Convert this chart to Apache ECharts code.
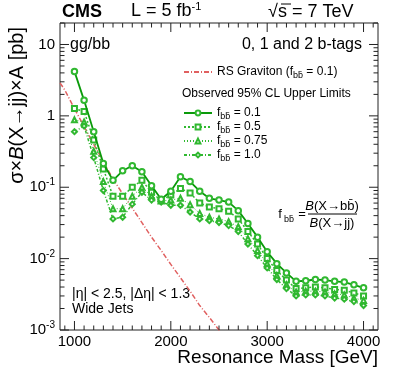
<!DOCTYPE html>
<html>
<head>
<meta charset="utf-8">
<script src="https://cdn.jsdelivr.net/npm/echarts@6/dist/echarts.min.js"></script>
<style>
html, body { margin: 0; padding: 0; background: #fff; }
#main { width: 399px; height: 387px; }
</style>
</head>
<body>
<div id="main"></div>
<script>
// ---------------------------------------------- data
var masses = [1000, 1100, 1200, 1300, 1400, 1500, 1600, 1700, 1800, 1900, 2000,
    2100, 2200, 2300, 2400, 2500, 2600, 2700, 2800, 2900, 3000,
    3100, 3200, 3300, 3400, 3500, 3600, 3700, 3800, 3900, 4000];
// observed 95% CL limits [pb]
var limit01 = [4.2, 1.65, 0.6, 0.215, 0.125, 0.17, 0.2, 0.165, 0.105, 0.068, 0.088,
    0.14, 0.12, 0.088, 0.07, 0.066, 0.062, 0.047, 0.031, 0.02, 0.0125,
    0.0085, 0.0063, 0.0048, 0.0049, 0.0051, 0.005, 0.0048, 0.0047, 0.0043, 0.0039];
var limit05 = [1.27, 1.15, 0.46, 0.18, 0.075, 0.075, 0.1, 0.125, 0.085, 0.065, 0.078,
    0.096, 0.083, 0.06, 0.053, 0.05, 0.046, 0.036, 0.024, 0.016, 0.01,
    0.0068, 0.005, 0.0038, 0.0039, 0.004, 0.0039, 0.0037, 0.0036, 0.0033, 0.003];
var limit075 = [0.88, 0.82, 0.32, 0.12, 0.05, 0.05, 0.075, 0.1, 0.075, 0.064, 0.066,
    0.07, 0.057, 0.043, 0.038, 0.036, 0.033, 0.028, 0.019, 0.013, 0.0085,
    0.0058, 0.0043, 0.0034, 0.0035, 0.0035, 0.0034, 0.0032, 0.0031, 0.0028, 0.0026];
var limit10 = [0.6, 0.72, 0.26, 0.09, 0.036, 0.038, 0.058, 0.085, 0.066, 0.062, 0.056,
    0.056, 0.045, 0.036, 0.034, 0.032, 0.029, 0.024, 0.016, 0.011, 0.0074,
    0.0051, 0.0038, 0.003, 0.0031, 0.0031, 0.003, 0.0028, 0.0027, 0.0025, 0.0022];
// RS graviton cross section
var gravMass = [850, 900, 1000, 1100, 1200, 1300, 1400, 1500, 1600, 1700, 1800,
    1900, 2000, 2100, 2200, 2300, 2400, 2500, 2600];
var gravXsec = [2.9, 2.3, 1.26, 0.71, 0.4, 0.23, 0.13, 0.081, 0.051, 0.032, 0.02,
    0.013, 0.0083, 0.0054, 0.0035, 0.0022, 0.0015, 0.001, 0.00063];
// axis labels
var xLabels = [1000, 2000, 3000, 4000];
var yLabels = [0.001, 0.01, 0.1, 1, 10];

// ---------------------------------------------- ticks (ROOT style, inside frame)
var xTicks = [];
for (var m = 900; m <= 4100; m += 100) {
    xTicks.push([m, 0.01, xLabels.indexOf(m) >= 0 ? 1 : 0]);
}
var yTicks = [];
yLabels.forEach(function (d) {
    yTicks.push([1000, d, 1]);
    for (var k = 2; k <= 9; k++) {
        if (d * k <= 20) yTicks.push([1000, +(d * k).toPrecision(2), 0]);
    }
});

function pairs(xs, ys) {
    return xs.map(function (x, i) { return [x, ys[i]]; });
}

var FONT = 'Liberation Sans';
var GREEN = '#0a9a0a';
var LGREEN = '#30b830';
var RED = '#e06060';

var sub = { fontSize: 9, fontFamily: FONT, color: '#000', padding: [7, 0, 0, 0] };
var txt = { fontSize: 12, fontFamily: FONT, color: '#000' };
var legendNames = {
    grav: '{t|RS Graviton (f}{s|bb\u0304}{t| = 0.1)}',
    f01: '{t|f}{s|bb\u0304}{t| = 0.1}',
    f05: '{t|f}{s|bb\u0304}{t| = 0.5}',
    f075: '{t|f}{s|bb\u0304}{t| = 0.75}',
    f10: '{t|f}{s|bb\u0304}{t| = 1.0}'
};

var myChart = echarts.init(document.getElementById('main'));
var option = {
    animation: false,
    grid: {
        left: 60,
        right: 21,
        top: 23,
        bottom: 57,
        show: true,
        borderColor: '#222',
        borderWidth: 1
    },
    xAxis: {
        type: 'value',
        min: 850,
        max: 4150,
        interval: 50,
        axisLine: { show: false },
        axisTick: { show: false },
        splitLine: { show: false },
        axisLabel: {
            margin: 4,
            fontSize: 15,
            fontFamily: FONT,
            color: '#000',
            formatter: function (v) {
                return xLabels.indexOf(v) >= 0 ? String(v) : '';
            }
        }
    },
    yAxis: {
        type: 'log',
        logBase: 10,
        min: 0.001,
        max: 20,
        axisLine: { show: false },
        axisTick: { show: false },
        splitLine: { show: false },
        axisLabel: {
            margin: 5,
            fontSize: 15,
            fontFamily: FONT,
            color: '#000',
            formatter: function (v) {
                var e = Math.round(Math.log10(v));
                if (Math.abs(Math.log10(v) - e) > 1e-6) return '';
                if (e === 0) return '1';
                if (e === 1) return '10';
                return '10{sup|' + e + '}';
            },
            rich: {
                sup: { fontSize: 10, fontFamily: FONT, color: '#000', padding: [0, 0, 9, 0] }
            }
        }
    },
    legend: [{
        data: [{ name: 'grav', itemStyle: { opacity: 0 } }],
        left: 178,
        top: 61,
        itemWidth: 28,
        itemHeight: 6,
        formatter: function (n) { return legendNames[n]; },
        textStyle: { rich: { t: txt, s: sub } }
    }, {
        data: ['f01', 'f05', 'f075', 'f10'],
        orient: 'vertical',
        left: 178,
        top: 102,
        itemGap: 0,
        itemWidth: 28,
        itemHeight: 6,
        formatter: function (n) { return legendNames[n]; },
        textStyle: { rich: { t: txt, s: sub } }
    }],
    graphic: [
        { type: 'text', left: 62, top: 3, style: { text: 'CMS', font: 'bold 18px ' + FONT, fill: '#000' } },
        { type: 'text', left: 131, top: 1, style: {
            text: '{n|L = 5 fb}{p|-1}', rich: {
                n: { fontSize: 18, fontFamily: FONT, color: '#000' },
                p: { fontSize: 11, fontFamily: FONT, color: '#000', padding: [0, 0, 10, 0] }
            } } },
        { type: 'text', left: 268, top: 3, style: { text: '\u221As = 7 TeV', font: '18px ' + FONT, fill: '#000' } },
        { type: 'line', shape: { x1: 281, y1: 4, x2: 291, y2: 4 }, style: { stroke: '#000', lineWidth: 1 } },
        { type: 'text', left: 70, top: 37, style: { text: 'gg/bb', font: '16px ' + FONT, fill: '#000' } },
        { type: 'text', right: 37, top: 37, style: { text: '0, 1 and 2 b-tags', font: '16px ' + FONT, fill: '#000' } },
        { type: 'text', left: 182, top: 88, style: { text: 'Observed 95% CL Upper Limits', font: '12px ' + FONT, fill: '#000' } },
        // f_bb = B(X->bb)/B(X->jj)
        { type: 'text', x: 280, y: 214, style: { text: 'f', font: '13px ' + FONT, fill: '#000', textAlign: 'center', textVerticalAlign: 'middle' } },
        { type: 'text', x: 289, y: 220, style: { text: 'bb\u0304', font: '9px ' + FONT, fill: '#000', textAlign: 'center', textVerticalAlign: 'middle' } },
        { type: 'text', x: 302, y: 214, style: { text: '=', font: '13px ' + FONT, fill: '#000', textAlign: 'center', textVerticalAlign: 'middle' } },
        { type: 'text', x: 332, y: 206, style: {
            text: '{i|B}{n|(X\u2192bb\u0304)}', textAlign: 'center', textVerticalAlign: 'middle', rich: {
                i: { fontSize: 13, fontFamily: FONT, fontStyle: 'italic', color: '#000' },
                n: { fontSize: 13, fontFamily: FONT, color: '#000' }
            } } },
        { type: 'line', shape: { x1: 308, y1: 214, x2: 357, y2: 214 }, style: { stroke: '#000', lineWidth: 1 } },
        { type: 'text', x: 332, y: 223, style: {
            text: '{i|B}{n|(X\u2192jj)}', textAlign: 'center', textVerticalAlign: 'middle', rich: {
                i: { fontSize: 13, fontFamily: FONT, fontStyle: 'italic', color: '#000' },
                n: { fontSize: 13, fontFamily: FONT, color: '#000' }
            } } },
        { type: 'text', left: 72, top: 287, style: { text: '|\u03b7| < 2.5, |\u0394\u03b7| < 1.3', font: '14px ' + FONT, fill: '#000' } },
        { type: 'text', left: 72, top: 302, style: { text: 'Wide Jets', font: '14px ' + FONT, fill: '#000' } },
        { type: 'text', right: 21, top: 348, style: { text: 'Resonance Mass [GeV]', font: '19px ' + FONT, fill: '#000' } },
        { type: 'text', x: 17, y: 27, rotation: Math.PI / 2, style: {
            text: '{n|\u03c3\u00d7}{i|B}{n|(X\u2192jj)\u00d7A [pb]}', textAlign: 'right', textVerticalAlign: 'middle', rich: {
                i: { fontSize: 20, fontFamily: FONT, fontStyle: 'italic', color: '#000' },
                n: { fontSize: 20, fontFamily: FONT, color: '#000' }
            } } }
    ],
    series: [{
        name: 'grav',
        type: 'line',
        data: pairs(gravMass, gravXsec),
        symbol: 'none',
        lineStyle: { color: RED, width: 1.5, type: [5, 2, 1, 2] },
        itemStyle: { color: RED },
        z: 2
    }, {
        name: 'f01',
        type: 'line',
        data: pairs(masses, limit01),
        symbol: 'emptyCircle',
        symbolSize: 5.5,
        lineStyle: { color: GREEN, width: 1.8 },
        itemStyle: { color: LGREEN, borderColor: LGREEN, borderWidth: 1 },
        z: 5
    }, {
        name: 'f05',
        type: 'line',
        data: pairs(masses, limit05),
        symbol: 'emptyRect',
        symbolSize: 5,
        lineStyle: { color: LGREEN, width: 1.5, type: [2, 2] },
        itemStyle: { color: LGREEN, borderColor: LGREEN, borderWidth: 1 },
        z: 4
    }, {
        name: 'f075',
        type: 'line',
        data: pairs(masses, limit075),
        symbol: 'emptyTriangle',
        symbolSize: 5,
        lineStyle: { color: LGREEN, width: 1, type: [1, 2] },
        itemStyle: { color: LGREEN, borderColor: LGREEN, borderWidth: 1 },
        z: 4
    }, {
        name: 'f10',
        type: 'line',
        data: pairs(masses, limit10),
        symbol: 'emptyDiamond',
        symbolSize: 5,
        lineStyle: { color: LGREEN, width: 1.5, type: [3, 2, 1, 2] },
        itemStyle: { color: LGREEN, borderColor: LGREEN, borderWidth: 1 },
        z: 4
    }, {
        // x ticks, bottom and top of frame
        type: 'custom',
        silent: true,
        data: xTicks,
        encode: { x: 0, y: 1 },
        renderItem: function (params, api) {
            var cs = params.coordSys;
            var x = api.coord([api.value(0), 0.01])[0];
            var len = api.value(2) ? 9 : 4.5;
            var st = { stroke: '#222', lineWidth: 1 };
            return { type: 'group', children: [
                { type: 'line', shape: { x1: x, y1: cs.y + cs.height, x2: x, y2: cs.y + cs.height - len }, style: st },
                { type: 'line', shape: { x1: x, y1: cs.y, x2: x, y2: cs.y + len }, style: st }
            ] };
        },
        z: 6
    }, {
        // y ticks, left and right of frame
        type: 'custom',
        silent: true,
        data: yTicks,
        encode: { x: 0, y: 1 },
        renderItem: function (params, api) {
            var cs = params.coordSys;
            var y = api.coord([1000, api.value(1)])[1];
            var len = api.value(2) ? 9 : 4.5;
            var st = { stroke: '#222', lineWidth: 1 };
            return { type: 'group', children: [
                { type: 'line', shape: { x1: cs.x, y1: y, x2: cs.x + len, y2: y }, style: st },
                { type: 'line', shape: { x1: cs.x + cs.width, y1: y, x2: cs.x + cs.width - len, y2: y }, style: st }
            ] };
        },
        z: 6
    }]
};
myChart.setOption(option);
</script>
</body>
</html>
